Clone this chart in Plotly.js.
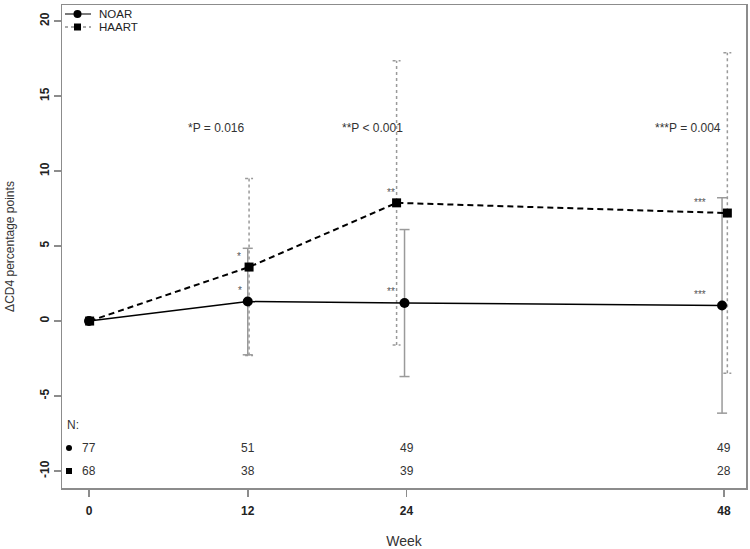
<!DOCTYPE html>
<html><head><meta charset="utf-8">
<script src="https://cdn.plot.ly/plotly-3.0.1.min.js"></script>
<style>html,body{margin:0;padding:0;background:#fff}#chart{width:750px;height:549px}</style>
</head><body><div id="chart"></div>
<script>
// ---- data ----
const weekTicks = [0, 12, 24, 48];
const weekLabels = ['0', '12', '24', '48'];
const noarWeek = [0, 12, 23.85, 47.85];
const noarMean = [0, 1.3, 1.2, 1.04];
const noarErr = [0, 3.55, 4.9, 7.18];
const haartWeek = [0.05, 12.1, 23.25, 48.25];
const haartMean = [0, 3.6, 7.88, 7.2];
const haartErr = [0, 5.9, 9.48, 10.68];
const noarN = ['77', '51', '49', '49'];
const haartN = ['68', '38', '39', '28'];
const starText = ['', '*', '**', '***'];
const pLabels = ['*P = 0.016', '**P < 0.001', '***P = 0.004'];
const seriesNames = ['NOAR', 'HAART'];
const yTicks = [-10, -5, 0, 5, 10, 15, 20];

// ---- layout / style settings ----
const pWeek = [9.6, 21.45, 45.25];
const pY = 12.9;
const nRowY = [-8.47, -10.0];
const nHeadY = -6.93;
const noarStarShift = [[0, 0], [-8, 11], [-14, 12], [-22, 11]];
const haartStarShift = [[0, 0], [-10, 11], [-6, 10], [-27, 11]];
const legendRowPx = [14, 27];
const FONT = 'Liberation Sans, Arial, Helvetica, sans-serif';
const M = {l: 62, r: 4, t: 5, b: 61};
const PW = 750 - M.l - M.r, PH = 549 - M.t - M.b;
const px2x = px => (px - M.l) / PW;
const py2y = py => (549 - M.b - py) / PH;

function errSegments(xs, ys, es, cap) {
  const x = [], y = [];
  for (let i = 0; i < xs.length; i++) {
    if (!(es[i] > 0)) continue;
    const lo = ys[i] - es[i], hi = ys[i] + es[i];
    x.push(xs[i], xs[i], null); y.push(lo, hi, null);
    x.push(xs[i] - cap, xs[i] + cap, null); y.push(hi, hi, null);
    x.push(xs[i] - cap, xs[i] + cap, null); y.push(lo, lo, null);
  }
  return {x, y};
}

const noarE = errSegments(noarWeek, noarMean, noarErr, 0.38);
const haartE = errSegments(haartWeek, haartMean, haartErr, 0.3);

const traces = [
  {x: haartE.x, y: haartE.y, mode: 'lines', showlegend: false, hoverinfo: 'skip',
   line: {color: '#9a9a9a', width: 1.5, dash: 'dot'}},
  {x: noarE.x, y: noarE.y, mode: 'lines', showlegend: false, hoverinfo: 'skip',
   line: {color: '#9a9a9a', width: 1.5}},
  {x: noarWeek, y: noarMean, name: seriesNames[0], mode: 'lines+markers', showlegend: false,
   line: {color: '#000', width: 1.5},
   marker: {symbol: 'circle', size: 10, color: '#000'}},
  {x: haartWeek, y: haartMean, name: seriesNames[1], mode: 'lines+markers', showlegend: false,
   line: {color: '#000', width: 2, dash: '6px,4px'},
   marker: {symbol: 'square', size: 9, color: '#000'}}
];

const ann = [];
pLabels.forEach((t, i) => ann.push({x: pWeek[i], y: pY, text: t, showarrow: false,
  font: {family: FONT, size: 12, color: '#333'}}));
for (let i = 1; i < 4; i++) {
  ann.push({x: noarWeek[i], y: noarMean[i], text: starText[i], showarrow: false,
    xshift: noarStarShift[i][0], yshift: noarStarShift[i][1], font: {family: FONT, size: 10, color: '#555'}});
  ann.push({x: haartWeek[i], y: haartMean[i], text: starText[i], showarrow: false,
    xshift: haartStarShift[i][0], yshift: haartStarShift[i][1], font: {family: FONT, size: 10, color: '#555'}});
}
ann.push({x: -1.85, y: nHeadY, text: 'N:', showarrow: false, xanchor: 'left',
  font: {family: FONT, size: 12, color: '#333'}});
weekTicks.forEach((w, i) => {
  ann.push({x: w, y: nRowY[0], text: noarN[i], showarrow: false, font: {family: FONT, size: 12, color: '#333'}});
  ann.push({x: w, y: nRowY[1], text: haartN[i], showarrow: false, font: {family: FONT, size: 12, color: '#333'}});
});
// manual legend text
seriesNames.forEach((nm, i) => ann.push({xref: 'paper', yref: 'paper', x: px2x(98), y: py2y(legendRowPx[i]),
  xanchor: 'left', yanchor: 'middle', borderpad: 0,
  text: nm, showarrow: false, font: {family: FONT, size: 11.5, color: '#222'}}));

function marker(kind, cx, cy, r) {
  return {type: kind, xref: 'paper', yref: 'paper', xsizemode: 'pixel', ysizemode: 'pixel',
    xanchor: px2x(cx), yanchor: py2y(cy), x0: -r, x1: r, y0: -r, y1: r,
    fillcolor: '#000', line: {width: 0}};
}
const shapes = [
  {type: 'line', xref: 'paper', yref: 'paper', x0: px2x(65), x1: px2x(91),
   y0: py2y(legendRowPx[0]), y1: py2y(legendRowPx[0]), line: {color: '#222', width: 1.2}},
  {type: 'line', xref: 'paper', yref: 'paper', x0: px2x(65), x1: px2x(91),
   y0: py2y(legendRowPx[1]), y1: py2y(legendRowPx[1]), line: {color: '#555', width: 1, dash: '3px,3px'}},
  marker('circle', 77.5, legendRowPx[0], 4),
  marker('rect', 77.5, legendRowPx[1], 3.5),
  marker('circle', 69, 448, 3),
  marker('rect', 69, 471, 3)
];

const layout = {
  width: 750, height: 549,
  margin: M,
  paper_bgcolor: '#fff', plot_bgcolor: '#fff',
  font: {family: FONT, color: '#222'},
  showlegend: false,
  xaxis: {range: [-2.04, 49.66], tickmode: 'array', tickvals: weekTicks, ticktext: weekLabels,
    showgrid: false, zeroline: false, showline: true, mirror: true, linecolor: '#8c8c8c', linewidth: 1.5,
    ticks: 'outside', ticklen: 7, tickcolor: '#8c8c8c', tickwidth: 1.5, ticklabelstandoff: 4,
    tickfont: {family: FONT, size: 12, color: '#222', weight: 'bold'},
    title: {text: 'Week', font: {family: FONT, size: 14, color: '#333'}, standoff: 22}},
  yaxis: {range: [-11.13, 21.07], tickmode: 'array', tickvals: yTicks, ticktext: yTicks.map(String),
    showgrid: false, zeroline: false, showline: true, mirror: true, linecolor: '#8c8c8c', linewidth: 1.5,
    ticks: 'outside', ticklen: 7, tickcolor: '#8c8c8c', tickwidth: 1.5, tickangle: -90,
    tickfont: {family: FONT, size: 12, color: '#222', weight: 'bold'},
    title: {text: 'ΔCD4 percentage points', font: {family: FONT, size: 12, color: '#333'}, standoff: 20}},
  annotations: ann,
  shapes: shapes
};

Plotly.newPlot('chart', traces, layout, {displayModeBar: false, staticPlot: true});
</script>
</body></html>
